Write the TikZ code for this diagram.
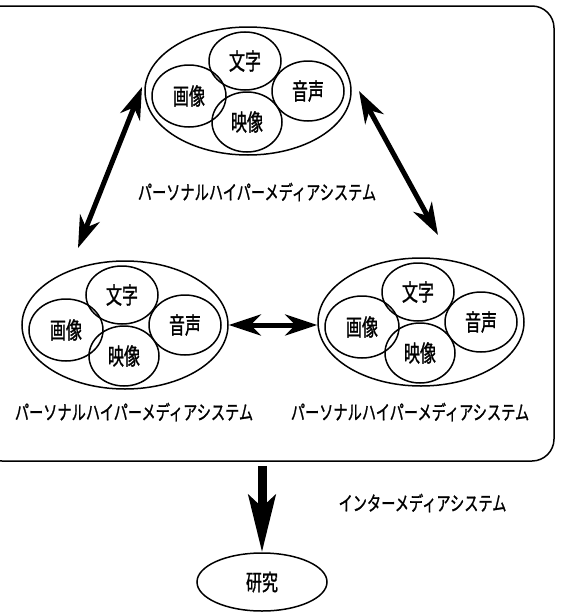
\documentclass[tikz,border=0pt]{standalone}
\usepackage{fontspec}
\newfontfamily\jpfont{Noto Sans CJK JP}[FakeBold=1.3]
\usetikzlibrary{arrows.meta,shapes.geometric}
% condensed, tall lettering
\newcommand{\tallt}[2][1.3]{\scalebox{1}[#1]{#2}}

\tikzset{
  outline/.style={draw, line width=1.5pt},
  oval/.style n args={2}{outline, ellipse, inner sep=0pt,
    minimum width=#1pt, minimum height=#2pt},
  medtext/.style={font=\jpfont\fontsize{16}{17}\selectfont},
  caption/.style={font=\jpfont\fontsize{14.2}{15}\selectfont, inner sep=0pt},
  dblarrow/.style={line width=5pt,
    arrows={Stealth[length=32pt,width=21pt,inset=10pt]-Stealth[length=32pt,width=21pt,inset=10pt]}},
  bigarrow/.style={line width=9pt,
    arrows={-Stealth[length=57pt,width=27pt,inset=12pt]}},
  mediagroup/.pic={
    \node[oval={206}{128}] (-ring) at (0,0) {};
    \node[oval={72}{58}, medtext] (-moji)  at (-3,-30) {\tallt[1.45]{文字}};
    \node[oval={74}{62}, medtext] (-gazo)  at (-59,5)  {\tallt[1.45]{画像}};
    \node[oval={72}{60}, medtext] (-onsei) at (60,0)   {\tallt[1.45]{音声}};
    \node[oval={70}{60}, medtext] (-eizo)  at (-1,31)  {\tallt[1.45]{映像}};
  }
}

\begin{document}
\begin{tikzpicture}[x=1pt,y=-1pt]
  \useasboundingbox (0,0) rectangle (561,613);
  \clip (0,0) rectangle (561,613);

  % surrounding frame of the inter-media system
  \node[outline, rounded corners=22pt, minimum width=574pt, minimum height=455pt,
        inner sep=0pt] (frame) at (267,233.5) {};

  % three personal hypermedia systems
  \pic (top) at (248,91)  {mediagroup};
  \pic (bl)  at (125,325) {mediagroup};
  \pic (br)  at (421,322) {mediagroup};

  \node[caption] (topcap) at (257,192) {\tallt[1.4]{パーソナルハイパーメディアシステム}};
  \node[caption] (blcap)  at (134,412) {\tallt[1.4]{パーソナルハイパーメディアシステム}};
  \node[caption] (brcap)  at (410,412) {\tallt[1.4]{パーソナルハイパーメディアシステム}};

  % links between the systems
  \coordinate (la) at (142,87);
  \coordinate (lb) at (78,248);
  \coordinate (ra) at (359,91);
  \coordinate (rb) at (438,235);
  \draw[dblarrow] (la) -- (lb);
  \draw[dblarrow] (ra) -- (rb);
  \draw[dblarrow] (bl-ring.east) -- (bl-ring.east -| br-ring.west);

  % result
  \node[oval={130}{58}, medtext] (research) at (262,582) {\tallt[1.4]{研究}};
  \node[caption] (intercap) at (422.5,503) {\tallt[1.4]{インターメディアシステム}};
  \draw[bigarrow] ([yshift=-4pt]frame.south -| research.north) -- (research.north);
\end{tikzpicture}
\end{document}
